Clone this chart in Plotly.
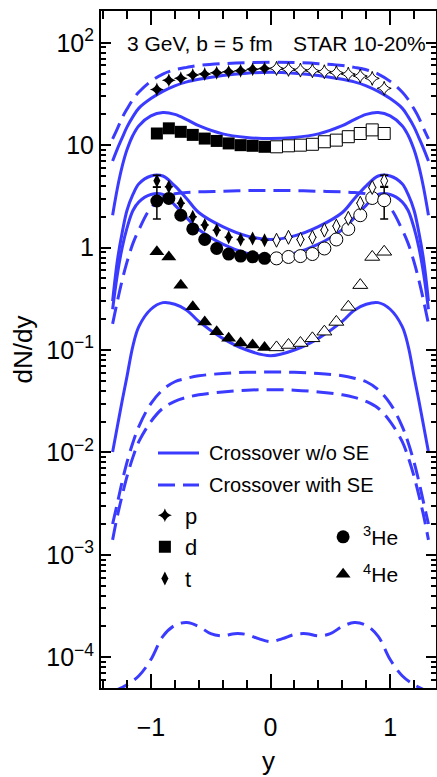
import plotly.graph_objects as go

# ---------------- data ----------------
y_neg = [-0.95, -0.85, -0.75, -0.65, -0.55, -0.45, -0.35, -0.25, -0.15, -0.05]
y_pos = [0.05, 0.15, 0.25, 0.35, 0.45, 0.55, 0.65, 0.75, 0.85, 0.95]

p_neg = [35, 43, 45, 48.4, 49.4, 51, 52, 53.3, 55, 56.2]
p_pos = [56.2, 55, 54.1, 53.3, 52.1, 51, 49.4, 47.3, 44.9, 35.9]
d_neg = [13.0, 14.6, 13.5, 12.6, 11.6, 11.0, 10.4, 10.0, 9.86, 9.64]
d_pos = [9.64, 9.86, 10.0, 10.2, 10.8, 11.2, 12.1, 13.0, 14.1, 13.0]
t_neg = [4.49, 3.92, 2.71, 2.0, 1.66, 1.48, 1.26, 1.20, 1.23, 1.18]
t_pos = [1.18, 1.26, 1.20, 1.26, 1.48, 1.62, 1.93, 2.71, 3.87, 4.49]
he3_neg = [2.85, 3.02, 2.07, 1.52, 1.20, 0.98, 0.865, 0.826, 0.813, 0.785]
he3_pos = [0.785, 0.81, 0.826, 0.865, 0.98, 1.20, 1.52, 2.07, 3.05, 2.9]
he4_neg = [0.91, 0.81, 0.43, 0.264, 0.188, 0.151, 0.130, 0.117, 0.112, 0.106]
he4_pos = [0.106, 0.112, 0.117, 0.130, 0.151, 0.188, 0.264, 0.43, 0.81, 0.91]

t_err_neg = [0.6, 0, 0, 0, 0, 0, 0, 0, 0, 0]
t_err_pos = [0, 0, 0, 0, 0, 0, 0, 0, 0, 0.6]
he3_errp_neg = [1.05, 0, 0, 0, 0, 0, 0, 0, 0, 0]
he3_errm_neg = [0.95, 0, 0, 0, 0, 0, 0, 0, 0, 0]
he3_errp_pos = [0, 0, 0, 0, 0, 0, 0, 0, 0, 1.05]
he3_errm_pos = [0, 0, 0, 0, 0, 0, 0, 0, 0, 1.0]

x_curve = [-1.32, -1.28, -1.24, -1.2, -1.15, -1.1, -1.0, -0.9, -0.8, -0.7, -0.6, -0.4, -0.2, 0,
           0.2, 0.4, 0.6, 0.7, 0.8, 0.9, 1.0, 1.1, 1.15, 1.2, 1.24, 1.28, 1.32]
p_solid = [7.0, 9.2, 11.8, 15, 19, 23, 28.5, 33.5, 38, 41.5, 44, 48, 50.5, 51.5,
           50.5, 48, 44, 41.5, 38, 33.5, 28.5, 23, 19, 15, 11.8, 9.2, 7.0]
p_dashed = [11.5, 14.5, 18.5, 22.5, 28, 33, 42, 49.5, 54.5, 57.5, 60, 62.5, 64, 64.5,
            64, 62.5, 60, 57.5, 54.5, 49.5, 42, 33, 28, 22.5, 18.5, 14.5, 11.5]
d_solid = [2.07, 3.8, 6.2, 9.0, 12.5, 15.5, 19.3, 20.8, 20.0, 17.8, 15.5, 12.9, 11.9, 11.6,
           11.9, 12.9, 15.5, 17.8, 20.0, 20.8, 19.3, 15.5, 12.5, 9.0, 6.2, 3.8, 2.07]
t_solid = [0.3, 0.75, 1.4, 2.3, 3.3, 4.2, 5.0, 5.0, 4.0, 3.0, 2.2, 1.6, 1.3, 1.2,
           1.3, 1.6, 2.2, 3.0, 4.0, 5.0, 5.0, 4.2, 3.3, 2.3, 1.4, 0.75, 0.3]
he3_solid = [0.25, 0.55, 1.0, 1.55, 2.3, 2.8, 3.3, 3.3, 2.6, 1.95, 1.5, 1.08, 0.88, 0.81,
             0.88, 1.08, 1.5, 1.95, 2.6, 3.3, 3.3, 2.8, 2.3, 1.55, 1.0, 0.55, 0.25]
he4_solid = [0.0101, 0.018, 0.032, 0.055, 0.11, 0.17, 0.25, 0.29, 0.28, 0.245, 0.19, 0.13, 0.1, 0.088,
             0.1, 0.13, 0.19, 0.245, 0.28, 0.29, 0.25, 0.17, 0.11, 0.055, 0.032, 0.018, 0.0101]
mid_dashed = [0.18, 0.3, 0.48, 0.72, 1.1, 1.5, 2.45, 3.05, 3.35, 3.45, 3.5, 3.55, 3.6, 3.6,
              3.6, 3.55, 3.5, 3.45, 3.35, 3.05, 2.45, 1.5, 1.1, 0.72, 0.48, 0.3, 0.18]
hi_dashed = [0.002, 0.0032, 0.0052, 0.008, 0.0125, 0.018, 0.030, 0.041, 0.049, 0.053, 0.056, 0.059, 0.0605, 0.061,
             0.0605, 0.059, 0.056, 0.053, 0.049, 0.041, 0.030, 0.018, 0.0125, 0.008, 0.0052, 0.0032, 0.002]
lo_dashed = [0.0014, 0.0024, 0.0038, 0.0058, 0.009, 0.0128, 0.020, 0.027, 0.0315, 0.0345, 0.0365, 0.039, 0.0405, 0.041,
             0.0405, 0.039, 0.0365, 0.0345, 0.0315, 0.027, 0.020, 0.0128, 0.009, 0.0058, 0.0038, 0.0024, 0.0014]

x_he4d = [-1.32, -1.2, -1.1, -1.0, -0.9, -0.8, -0.7, -0.6, -0.5, -0.4, -0.3, -0.2, -0.1, 0,
          0.1, 0.2, 0.3, 0.4, 0.5, 0.6, 0.7, 0.8, 0.9, 1.0, 1.1, 1.2, 1.32]
he4_dashed = [4.6e-5, 5.4e-5, 6.6e-5, 9.5e-5, 1.6e-4, 2.05e-4, 2.18e-4, 2.0e-4, 1.7e-4, 1.62e-4, 1.7e-4, 1.67e-4, 1.52e-4, 1.42e-4,
              1.52e-4, 1.67e-4, 1.7e-4, 1.62e-4, 1.7e-4, 2.0e-4, 2.18e-4, 2.05e-4, 1.6e-4, 9.5e-5, 6.6e-5, 5.4e-5, 4.6e-5]

y_tickvals = [1e-4, 1e-3, 1e-2, 1e-1, 1, 10, 100]
y_ticktext = ["10<sup>\u22124</sup>", "10<sup>\u22123</sup>", "10<sup>\u22122</sup>",
              "10<sup>\u22121</sup>", "1", "10", "10<sup>2</sup>"]
x_tickvals = [-1, 0, 1]

# ---------------- style ----------------
BLUE = "#3b3bff"
FONT = "Liberation Sans"
LW = 3
DASH = "17px,8px"

fig = go.Figure()

solid_curves = [p_solid, d_solid, t_solid, he3_solid, he4_solid]
dashed_curves = [p_dashed, mid_dashed, hi_dashed, lo_dashed]
for c in solid_curves:
    fig.add_trace(go.Scatter(x=x_curve, y=c, mode="lines", line=dict(color=BLUE, width=LW, shape="spline"),
                             showlegend=False, hoverinfo="skip"))
for c in dashed_curves:
    fig.add_trace(go.Scatter(x=x_curve, y=c, mode="lines",
                             line=dict(color=BLUE, width=LW, shape="spline", dash=DASH),
                             showlegend=False, hoverinfo="skip"))
fig.add_trace(go.Scatter(x=x_he4d, y=he4_dashed, mode="lines",
                         line=dict(color=BLUE, width=LW, shape="spline", dash=DASH),
                         showlegend=False, hoverinfo="skip"))


def markers(x, y, sym, size, name, legend=None, filled=True, err=None, group=None):
    kw = {}
    if err is not None:
        kw["error_y"] = dict(type="data", array=err[0], arrayminus=err[1], color="black",
                             thickness=1.5, width=4, visible=True)
    if filled:
        m = dict(symbol=sym, size=size, color="black", line=dict(width=0))
    else:
        m = dict(symbol=sym, size=size, color="white", line=dict(color="black", width=1))
    fig.add_trace(go.Scatter(x=x, y=y, mode="markers", marker=m, name=name,
                             showlegend=legend is not None, legend=legend or "legend",
                             legendgroup=group, **kw))


markers(y_neg, p_neg, "star-diamond", 10, "p", "legend2", group="p")
markers(y_pos, p_pos, "star-diamond", 10, "p", None, filled=False)
markers(y_neg, d_neg, "square", 12, "d", "legend2", group="d")
markers(y_pos, d_pos, "square", 12, "d", None, filled=False)
markers(y_neg, he3_neg, "circle", 13, "<sup>3</sup>He", "legend3", err=(he3_errp_neg, he3_errm_neg), group="he3")
markers(y_pos, he3_pos, "circle", 13, "<sup>3</sup>He", None, filled=False, err=(he3_errp_pos, he3_errm_pos))
markers(y_neg, t_neg, "diamond-tall", 10, "t", "legend2", err=(t_err_neg, t_err_neg), group="t")
markers(y_pos, t_pos, "diamond-tall", 10, "t", None, filled=False, err=(t_err_pos, t_err_pos))
markers(y_neg, he4_neg, "triangle-up", 13, "<sup>4</sup>He", "legend3", group="he4")
markers(y_pos, he4_pos, "triangle-up", 13, "<sup>4</sup>He", None, filled=False)

# minor ticks for log axis
y_minor = [k * 10.0 ** d for d in range(-5, 3) for k in range(2, 10)]

fig.update_layout(
    width=437, height=777,
    margin=dict(l=101, r=1, t=11, b=89),
    paper_bgcolor="white", plot_bgcolor="white",
    font=dict(family=FONT, color="black", size=20),
    xaxis=dict(range=[-1.417, 1.383], tickmode="array", tickvals=x_tickvals, automargin=False,
               ticks="inside", ticklen=14, tickwidth=2, tickcolor="black", ticklabelstandoff=16,
               showline=True, linecolor="black", linewidth=2, mirror="ticks",
               showgrid=False, zeroline=False, tickfont=dict(size=25, family=FONT),
               minor=dict(dtick=0.2, tick0=0, ticks="inside", ticklen=8, tickwidth=1.5,
                          tickcolor="black", showgrid=False),
               title=dict(text="y", font=dict(size=26, family=FONT), standoff=12)),
    yaxis=dict(type="log", range=[-4.3, 2.31], tickmode="array", tickvals=y_tickvals, automargin=False,
               ticktext=y_ticktext, ticks="inside", ticklen=10, tickwidth=2, tickcolor="black",
               showline=True, linecolor="black", linewidth=2, mirror="ticks",
               showgrid=False, zeroline=False, tickfont=dict(size=25, family=FONT),
               minor=dict(tickmode="array", tickvals=y_minor, ticks="inside", ticklen=5,
                          tickwidth=1.5, tickcolor="black", showgrid=False),
               title=dict(text="dN/dy", font=dict(size=26, family=FONT), standoff=6)),
    legend2=dict(x=0.131, y=0.286, xanchor="left", yanchor="top", bgcolor="rgba(0,0,0,0)",
                 font=dict(size=22, family=FONT), borderwidth=0, tracegroupgap=0),
    legend3=dict(x=0.663, y=0.253, xanchor="left", yanchor="top", bgcolor="rgba(0,0,0,0)",
                 font=dict(size=21, family=FONT), borderwidth=0, tracegroupgap=7),
    showlegend=True,
)


def px2paper_x(px):
    return (px - 101) / 335.0


def px2paper_y(py):
    return (688 - py) / 677.0


for py, dash, label in [(453, "solid", "Crossover w/o SE"), (485, DASH, "Crossover with SE")]:
    fig.add_shape(type="line", xref="paper", yref="paper",
                  x0=px2paper_x(158), x1=px2paper_x(199), y0=px2paper_y(py), y1=px2paper_y(py),
                  line=dict(color=BLUE, width=LW, dash=dash))
    fig.add_annotation(xref="paper", yref="paper", x=px2paper_x(207), y=px2paper_y(py),
                       text=label, showarrow=False, xanchor="left", yanchor="middle",
                       font=dict(size=20, family=FONT, color="black"))

fig.add_annotation(xref="paper", yref="paper", x=px2paper_x(125), y=px2paper_y(44),
                   text="3 GeV, b = 5 fm", showarrow=False, xanchor="left", yanchor="middle",
                   font=dict(size=21, family=FONT, color="black"))
fig.add_annotation(xref="paper", yref="paper", x=px2paper_x(428), y=px2paper_y(44),
                   text="STAR 10-20%", showarrow=False, xanchor="right", yanchor="middle",
                   font=dict(size=21, family=FONT, color="black"))

fig.write_html("out.html", config={"displayModeBar": False},
               post_script="document.body.style.margin='0px';")
